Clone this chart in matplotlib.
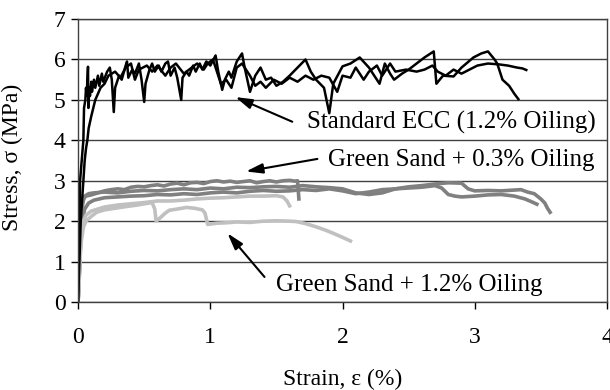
import matplotlib.pyplot as plt

# Standard ECC (1.2% oiling), two specimens
ecc_a_strain = [0, 0.005, 0.01, 0.015, 0.03, 0.04, 0.045, 0.055, 0.06, 0.065, 0.075, 0.078, 0.085, 0.09,
                0.1, 0.105, 0.12, 0.13, 0.15, 0.16, 0.18, 0.19, 0.22, 0.24, 0.255, 0.27, 0.28, 0.31,
                0.33, 0.36, 0.37, 0.38, 0.41, 0.43, 0.46, 0.48, 0.5, 0.51, 0.54, 0.56, 0.58, 0.61,
                0.63, 0.66, 0.68, 0.7, 0.73, 0.75, 0.78, 0.79, 0.82, 0.84, 0.87, 0.89, 0.92, 0.94,
                0.97, 1.0, 1.04, 1.06, 1.09, 1.11, 1.14, 1.16, 1.2, 1.24, 1.26, 1.3, 1.34, 1.38,
                1.42, 1.46, 1.5, 1.55, 1.6, 1.66, 1.72, 1.76, 1.8, 1.86, 1.9, 1.93, 2.0, 2.06, 2.13,
                2.2, 2.28, 2.32, 2.36, 2.39, 2.45, 2.5, 2.56, 2.62, 2.69, 2.71, 2.76, 2.84, 2.9,
                2.99, 3.05, 3.1, 3.15, 3.17, 3.21, 3.26, 3.3, 3.33]
ecc_a_stress = [0, 1.0, 2.0, 3.0, 3.6, 4.0, 4.8, 5.0, 5.3, 5.1, 5.82, 4.8, 5.3, 5.1,
                5.45, 5.2, 5.5, 5.3, 5.6, 5.35, 5.65, 5.45, 5.7, 5.8, 5.5, 4.7, 5.3, 5.6,
                5.5, 5.85, 5.95, 5.55, 5.75, 5.65, 5.9, 5.5, 4.95, 5.4, 5.75, 5.9, 5.7, 5.85,
                5.7, 5.9, 5.95, 5.6, 5.8, 5.55, 5.0, 5.55, 5.7, 5.6, 5.85, 5.7, 5.9, 5.75,
                5.95, 5.85, 6.1, 5.7, 5.25, 5.5, 5.7, 5.55, 5.95, 6.15, 5.8, 5.2, 5.6, 5.8,
                5.5, 5.55, 5.35, 5.45, 5.6, 5.8, 6.0, 5.7, 5.5, 5.3, 4.67, 5.4, 5.83, 5.9, 6.05,
                5.8, 5.4, 5.9, 5.65, 5.5, 5.65, 5.75, 5.9, 6.05, 6.2, 5.4, 5.6, 5.58, 5.8,
                6.05, 6.15, 6.2, 6.0, 5.9, 5.5, 5.35, 5.15, 5.02]

ecc_b_strain = [0, 0.01, 0.02, 0.04, 0.05, 0.06, 0.07, 0.08, 0.1, 0.13, 0.17, 0.2, 0.23, 0.28, 0.32,
                0.36, 0.4, 0.43, 0.46, 0.52, 0.56, 0.6, 0.66, 0.7, 0.74, 0.8, 0.84, 0.9, 0.95, 0.98,
                1.02, 1.05, 1.08, 1.12, 1.16, 1.2, 1.24, 1.3, 1.34, 1.38, 1.42, 1.48, 1.54, 1.6, 1.66,
                1.72, 1.78, 1.84, 1.9, 1.96, 2.0, 2.06, 2.1, 2.16, 2.2, 2.26, 2.3, 2.36, 2.4, 2.48,
                2.56, 2.62, 2.68, 2.72, 2.78, 2.84, 2.9, 2.96, 3.02, 3.1, 3.18, 3.25, 3.32, 3.36, 3.39]
ecc_b_stress = [0, 1.0, 2.0, 3.0, 3.5, 3.8, 4.0, 4.3, 4.6, 5.0, 5.3, 5.4, 5.6, 5.7, 5.55,
                5.8, 5.9, 5.5, 5.75, 5.85, 5.7, 5.85, 5.6, 5.8, 5.9, 5.65, 5.75, 5.9, 5.75, 5.9,
                6.0, 5.7, 5.4, 5.5, 5.3, 5.8, 5.9, 5.6, 5.35, 5.45, 5.3, 5.5, 5.4, 5.55, 5.45,
                5.6, 5.5, 5.6, 5.55, 5.2, 5.6, 5.55, 5.8, 5.5, 5.7, 5.85, 5.6, 5.9, 5.7, 5.75,
                5.7, 5.75, 5.85, 5.7, 5.6, 5.75, 5.65, 5.75, 5.85, 5.9, 5.88, 5.85, 5.8, 5.78, 5.74]

# Green sand + 0.3% oiling, three specimens
gs03_a_strain = [0, 0.01, 0.02, 0.03, 0.04, 0.06, 0.1, 0.15, 0.2, 0.25, 0.3, 0.35, 0.4, 0.45, 0.5,
                 0.55, 0.6, 0.65, 0.7, 0.75, 0.8, 0.85, 0.9, 0.95, 1.0, 1.05, 1.1, 1.15, 1.2, 1.25,
                 1.3, 1.35, 1.4, 1.45, 1.5, 1.55, 1.6, 1.64, 1.66, 1.67]
gs03_a_stress = [0, 0.8, 1.6, 2.3, 2.55, 2.62, 2.65, 2.7, 2.75, 2.78, 2.8, 2.78, 2.84, 2.86, 2.85,
                 2.88, 2.9, 2.87, 2.92, 2.94, 2.9, 2.95, 2.96, 2.93, 2.98, 3.0, 2.97, 2.99, 2.96, 2.98,
                 3.0, 2.95, 2.98, 3.0, 2.97, 3.0, 3.01, 2.99, 3.0, 2.55]

gs03_b_strain = [0, 0.01, 0.02, 0.03, 0.05, 0.08, 0.12, 0.2, 0.3, 0.4, 0.5, 0.6, 0.7, 0.8, 0.9, 1.0,
                 1.1, 1.2, 1.3, 1.4, 1.5, 1.6, 1.7, 1.8, 1.9, 2.0, 2.1, 2.2, 2.3, 2.4, 2.5, 2.6, 2.7,
                 2.8, 2.9, 2.95, 3.0, 3.1, 3.2, 3.3, 3.35, 3.4, 3.45, 3.5, 3.53, 3.55, 3.57]
gs03_b_stress = [0, 0.9, 1.8, 2.4, 2.62, 2.68, 2.7, 2.72, 2.7, 2.74, 2.76, 2.75, 2.78, 2.8, 2.78, 2.82,
                 2.8, 2.84, 2.83, 2.85, 2.86, 2.84, 2.88, 2.85, 2.83, 2.8, 2.7, 2.66, 2.7, 2.8, 2.85, 2.88,
                 2.92, 2.95, 2.94, 2.8, 2.75, 2.76, 2.75, 2.77, 2.78, 2.72, 2.68, 2.55, 2.45, 2.32, 2.22]

gs03_c_strain = [0, 0.01, 0.02, 0.03, 0.05, 0.08, 0.12, 0.2, 0.3, 0.4, 0.5, 0.6, 0.7, 0.8, 0.9, 1.0,
                 1.1, 1.2, 1.3, 1.4, 1.5, 1.6, 1.7, 1.8, 1.9, 2.0, 2.1, 2.2, 2.3, 2.4, 2.5, 2.6, 2.7,
                 2.75, 2.8, 2.85, 2.9, 3.0, 3.1, 3.2, 3.3, 3.38, 3.43, 3.47]
gs03_c_stress = [0, 0.7, 1.5, 2.0, 2.3, 2.45, 2.52, 2.58, 2.6, 2.62, 2.63, 2.66, 2.65, 2.68, 2.66, 2.7,
                 2.72, 2.7, 2.74, 2.76, 2.74, 2.75, 2.78, 2.76, 2.8, 2.75, 2.68, 2.72, 2.78, 2.8, 2.82, 2.84,
                 2.88, 2.82, 2.66, 2.62, 2.6, 2.62, 2.65, 2.66, 2.62, 2.55, 2.48, 2.42]

# Green sand + 1.2% oiling, two specimens
gs12_a_strain = [0, 0.01, 0.02, 0.04, 0.06, 0.1, 0.15, 0.2, 0.3, 0.4, 0.5, 0.6, 0.7, 0.8, 0.9, 1.0,
                 1.1, 1.2, 1.3, 1.4, 1.5, 1.55, 1.58, 1.6]
gs12_a_stress = [0, 0.8, 1.6, 2.0, 2.15, 2.25, 2.3, 2.35, 2.4, 2.43, 2.46, 2.5, 2.5, 2.52, 2.55, 2.57,
                 2.58, 2.6, 2.62, 2.62, 2.63, 2.6, 2.5, 2.38]

gs12_b_strain = [0, 0.01, 0.02, 0.04, 0.06, 0.1, 0.14, 0.2, 0.3, 0.36, 0.45, 0.52, 0.56, 0.58, 0.59,
                 0.62, 0.66, 0.69, 0.75, 0.82, 0.88, 0.94, 0.96, 0.98, 1.05, 1.12, 1.2, 1.3, 1.4, 1.5,
                 1.6, 1.65, 1.72, 1.8, 1.87, 1.93, 2.0, 2.06]
gs12_b_stress = [0, 0.7, 1.4, 1.85, 2.0, 2.12, 2.22, 2.28, 2.33, 2.36, 2.4, 2.44, 2.46, 2.3, 2.0,
                 2.08, 2.2, 2.27, 2.3, 2.34, 2.32, 2.28, 2.2, 1.92, 1.95, 1.96, 1.98, 1.97, 2.0, 2.01,
                 2.0, 1.99, 1.94, 1.86, 1.78, 1.7, 1.6, 1.51]

labels = ["Standard ECC (1.2% Oiling)", "Green Sand + 0.3% Oiling", "Green Sand + 1.2% Oiling"]
label_pos = [(1.73, 4.45), (1.89, 3.51), (1.50, 0.42)]
arrow_tail = [(1.62, 4.46), (1.81, 3.54), (1.41, 0.62)]
arrow_tip = [(1.19, 5.07), (1.27, 3.23), (1.13, 1.70)]

serif = ['Liberation Serif', 'DejaVu Serif']
plt.rcParams['font.family'] = serif

fig = plt.figure(figsize=(6.1, 3.9), dpi=100)
ax = fig.add_axes([0.128, 0.2256, 0.867, 0.7255])

mid_gray = '#808080'
light_gray = '#c0c0c0'
ax.plot(gs03_a_strain, gs03_a_stress, color=mid_gray, lw=2.6)
ax.plot(gs03_b_strain, gs03_b_stress, color=mid_gray, lw=2.6)
ax.plot(gs03_c_strain, gs03_c_stress, color=mid_gray, lw=2.6)
ax.plot(gs12_a_strain, gs12_a_stress, color=light_gray, lw=2.6)
ax.plot(gs12_b_strain, gs12_b_stress, color=light_gray, lw=2.6)
ax.plot(ecc_a_strain, ecc_a_stress, color='black', lw=1.8)
ax.plot(ecc_b_strain, ecc_b_stress, color='black', lw=1.8)

for text, pos, tail, tip in zip(labels, label_pos, arrow_tail, arrow_tip):
    ax.text(pos[0], pos[1], text, fontsize=18, ha='left', va='center')
    ax.annotate('', xy=tip, xytext=tail,
                arrowprops=dict(arrowstyle='-|>,head_length=1.0,head_width=0.3',
                                color='black', lw=1.5, shrinkA=0, shrinkB=0))

ax.set_xlim(0, 4)
ax.set_ylim(0, 7)
ax.set_xticks(range(0, 5))
ax.set_yticks(range(0, 8))
ax.grid(axis='y', color='#404040', lw=1.0)
ax.set_axisbelow(True)
ax.tick_params(direction='out', length=5, width=1, labelsize=17)
ax.tick_params(axis='x', pad=13)
ax.tick_params(axis='y', pad=4)
for s in ax.spines.values():
    s.set_linewidth(1.0)
    s.set_color('#404040')

ax.set_xlabel('Strain, ε (%)', fontsize=17)
ax.set_ylabel('Stress, σ (MPa)', fontsize=17)
ax.xaxis.set_label_coords(0.5, -0.235)
ax.yaxis.set_label_coords(-0.105, 0.51)

fig.savefig('out.png', dpi=100)
